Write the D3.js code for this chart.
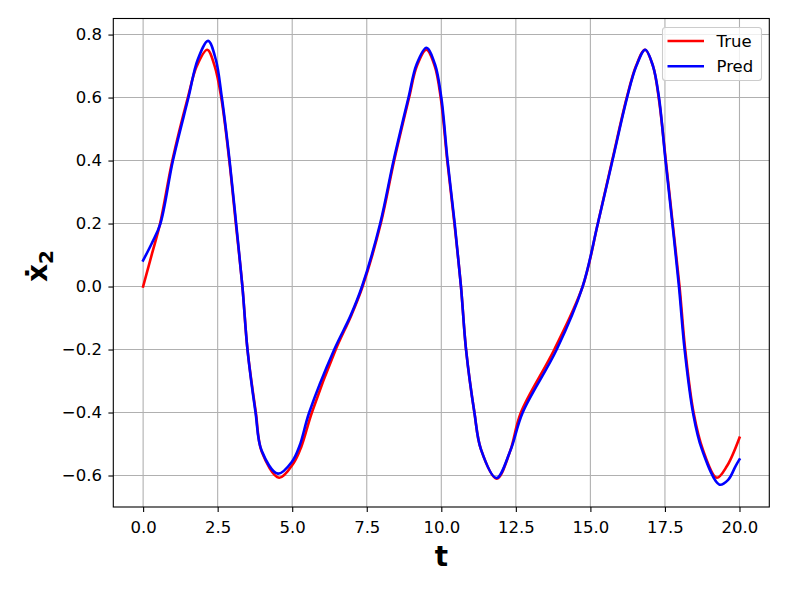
<!DOCTYPE html>
<html>
<head>
<meta charset="utf-8">
<script src="https://cdn.jsdelivr.net/npm/d3@7"></script>
<style>
  html, body { margin: 0; padding: 0; background: #ffffff; }
  svg { display: block; }
  text { font-family: "DejaVu Sans", sans-serif; }
</style>
</head>
<body>
<svg id="chart" width="789" height="592"></svg>
<script>
// ---- data ----
const tTrue = [0, 0.3, 0.57, 0.98, 1.5, 1.8, 2.15, 2.4, 2.62, 2.89, 3.11, 3.33, 3.5, 3.78, 3.98, 4.56, 5.05, 5.3, 5.66, 6.46, 6.97, 7.36, 7.97, 8.42, 8.92, 9.18, 9.5, 9.78, 9.98, 10.2, 10.44, 10.66, 10.83, 11.11, 11.33, 11.86, 12.3, 12.67, 13.79, 14.74, 15.25, 15.73, 16.22, 16.53, 16.83, 17.1, 17.29, 17.53, 17.76, 17.99, 18.18, 18.46, 18.77, 19.24, 19.58, 20];
const vTrue = [0, 0.105, 0.2, 0.4, 0.6, 0.7, 0.752, 0.7, 0.6, 0.4, 0.2, 0, -0.2, -0.4, -0.525, -0.607, -0.56, -0.51, -0.4, -0.2, -0.094, 0, 0.2, 0.4, 0.6, 0.7, 0.752, 0.7, 0.6, 0.4, 0.2, 0, -0.2, -0.4, -0.517, -0.61, -0.525, -0.4, -0.2, 0, 0.2, 0.4, 0.6, 0.7, 0.752, 0.7, 0.6, 0.4, 0.2, 0, -0.2, -0.4, -0.517, -0.607, -0.57, -0.48];

const tPred = [0, 0.3, 0.58, 1.0, 1.52, 1.83, 2.18, 2.44, 2.64, 2.9, 3.12, 3.33, 3.5, 3.77, 3.97, 4.52, 5.0, 5.25, 5.57, 6.41, 6.95, 7.34, 7.95, 8.4, 8.9, 9.17, 9.5, 9.79, 10.0, 10.21, 10.45, 10.66, 10.83, 11.11, 11.33, 11.85, 12.32, 12.73, 13.87, 14.74, 15.25, 15.74, 16.23, 16.54, 16.84, 17.1, 17.3, 17.52, 17.75, 17.97, 18.16, 18.44, 18.74, 19.33, 19.62, 19.87, 20];
const vPred = [0.083, 0.139, 0.2, 0.4, 0.6, 0.72, 0.78, 0.72, 0.6, 0.4, 0.2, 0, -0.2, -0.4, -0.52, -0.594, -0.555, -0.505, -0.4, -0.2, -0.094, 0, 0.2, 0.4, 0.6, 0.705, 0.758, 0.705, 0.6, 0.4, 0.2, 0, -0.2, -0.4, -0.517, -0.608, -0.52, -0.4, -0.2, 0, 0.2, 0.4, 0.6, 0.7, 0.752, 0.7, 0.6, 0.4, 0.2, 0, -0.2, -0.4, -0.517, -0.629, -0.614, -0.57, -0.549];

const xTicks = [0, 2.5, 5, 7.5, 10, 12.5, 15, 17.5, 20];
const yTicks = [-0.6, -0.4, -0.2, 0.0, 0.2, 0.4, 0.6, 0.8];
const seriesNames = ["True", "Pred"];
const seriesColors = ["#ff0000", "#0000ff"];

// ---- layout ----
const L = 113.3, R = 769.3, T = 18.5, B = 507;
const FS = 16.5;
const svg = d3.select("#chart");

const x = d3.scaleLinear().domain([-1, 21]).range([L, R]);
const y = d3.scaleLinear().domain([-0.7, 0.851]).range([B, T]);

const fmtMinus = s => s.replace("-", "\u2212");

// grid
const grid = svg.append("g");
grid.selectAll("line.gx").data(xTicks).enter().append("line")
  .attr("x1", d => x(d)).attr("x2", d => x(d)).attr("y1", T).attr("y2", B)
  .attr("stroke", "#b0b0b0").attr("stroke-width", 1.1);
grid.selectAll("line.gy").data(yTicks).enter().append("line")
  .attr("y1", d => y(d)).attr("y2", d => y(d)).attr("x1", L).attr("x2", R)
  .attr("stroke", "#b0b0b0").attr("stroke-width", 1.1);

// lines
const line = d3.line().x(d => x(d[0])).y(d => y(d[1])).curve(d3.curveCatmullRom.alpha(0.5));
const dataTrue = tTrue.map((t, i) => [t, vTrue[i]]);
const dataPred = tPred.map((t, i) => [t, vPred[i]]);
[dataTrue, dataPred].forEach((d, i) => {
  svg.append("path").datum(d).attr("d", line)
    .attr("fill", "none").attr("stroke", seriesColors[i])
    .attr("stroke-width", 2.6).attr("stroke-linejoin", "round").attr("stroke-linecap", "square");
});

// axes
const xAxis = d3.axisBottom(x).tickValues(xTicks).tickFormat(d3.format(".1f"))
  .tickSize(4.9).tickPadding(4.9);
const yAxis = d3.axisLeft(y).tickValues(yTicks).tickFormat(d => fmtMinus(d3.format(".1f")(d)))
  .tickSize(4.9).tickPadding(6.5);

const gx = svg.append("g").attr("transform", `translate(0,${B})`).call(xAxis);
const gy = svg.append("g").attr("transform", `translate(${L},0)`).call(yAxis);
[gx, gy].forEach(g => {
  g.select(".domain").remove();
  g.selectAll(".tick line").attr("stroke", "#000").attr("stroke-width", 1.1);
  g.selectAll(".tick text").attr("fill", "#000").style("font-size", FS + "px")
    .style("font-family", "DejaVu Sans");
});
gx.selectAll(".tick text").attr("y", 10.5).attr("dy", "0.93em");

// spines
svg.append("rect").attr("x", L).attr("y", T).attr("width", R - L).attr("height", B - T)
  .attr("fill", "none").attr("stroke", "#000").attr("stroke-width", 1.1);

// axis labels
svg.append("text").attr("x", (L + R) / 2).attr("y", 566)
  .attr("text-anchor", "middle").style("font-size", "27.8px").style("font-weight", "bold")
  .text("t");

const yl = svg.append("text").attr("transform", "translate(47,266) rotate(-90)")
  .attr("text-anchor", "middle").style("font-size", "28px").style("font-weight", "bold");
yl.append("tspan").text("\u1E8B");
yl.append("tspan").attr("dy", 6).style("font-size", "20px").text("2");

// legend
const lg = svg.append("g");
lg.append("rect").attr("x", 662.5).attr("y", 27.5).attr("width", 99).attr("height", 53)
  .attr("rx", 3).attr("fill", "#ffffff").attr("fill-opacity", 0.8)
  .attr("stroke", "#cccccc").attr("stroke-width", 1.1);
seriesNames.forEach((n, i) => {
  const yy = 41 + i * 25.3;
  lg.append("line").attr("x1", 667.5).attr("x2", 704).attr("y1", yy).attr("y2", yy)
    .attr("stroke", seriesColors[i]).attr("stroke-width", 2.6);
  lg.append("text").attr("x", 716.5).attr("y", yy + 6).style("font-size", FS + "px")
    .attr("fill", "#000").text(n);
});
</script>
</body>
</html>
